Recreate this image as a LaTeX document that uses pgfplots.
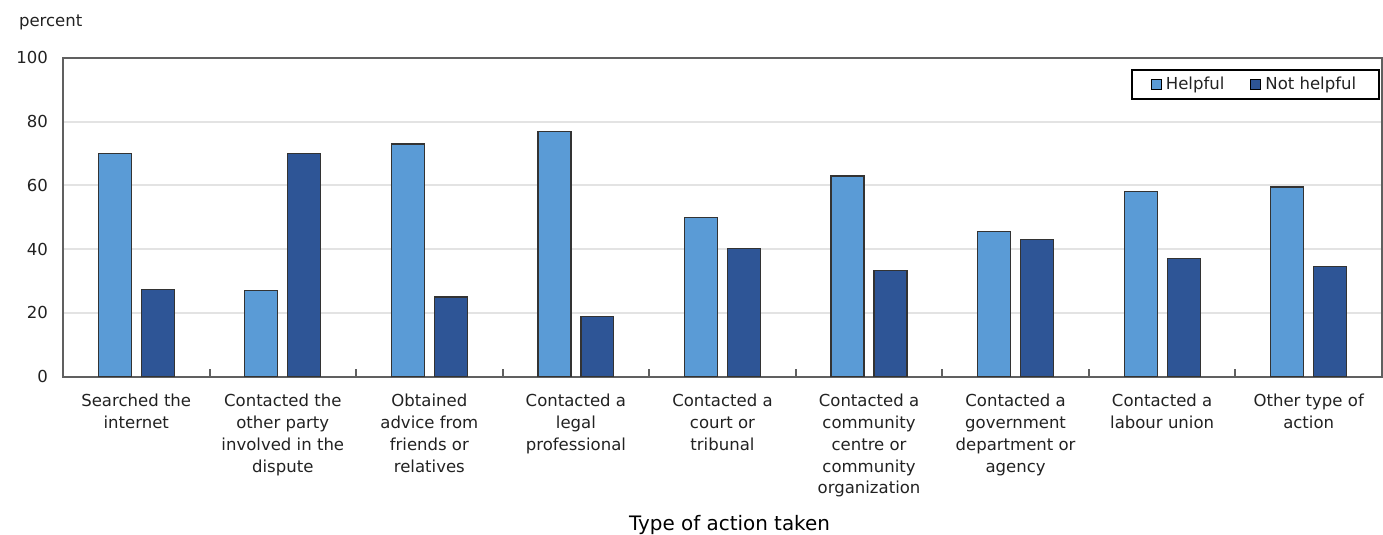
\documentclass[border=0pt]{standalone}
\usepackage{fontspec}
\setmainfont{DejaVu Sans}
\usepackage{pgfplots}
\pgfplotsset{compat=1.18}
\definecolor{helpful}{HTML}{5A9BD6}
\definecolor{nothelpful}{HTML}{2E5596}
\definecolor{gridc}{HTML}{E3E3E3}
\definecolor{axisc}{HTML}{606060}
\definecolor{txt}{HTML}{222222}
\begin{document}
\begin{tikzpicture}
\useasboundingbox (-31.5bp,-79bp) rectangle (660.5bp,188.5bp);
\begin{axis}[
  at={(0,0)}, anchor=south west,
  scale only axis,
  width=660bp, height=159.5bp,
  ybar, bar width=16.5bp,
  xmin=-0.5, xmax=8.5,
  ymin=0, ymax=100,
  ytick={0,20,40,60,80,100},
  ymajorgrids, grid style={gridc, line width=1bp},
  axis line style={axisc, line width=1bp},
  xtick={0,...,8},
  xtick pos=lower, ytick pos=left,
  tick align=inside,
  xtick align=inside,
  major x tick style={draw=none},
  minor xtick={0.5,1.5,...,7.5},
  minor x tick style={axisc, line width=1bp},
  minor tick length=4bp,
  major y tick style={draw=none},
  clip=false,
  xticklabels={
    {Searched the\\internet},
    {Contacted the\\other party\\involved in the\\dispute},
    {Obtained\\advice from\\friends or\\relatives},
    {Contacted a\\legal\\professional},
    {Contacted a\\court or\\tribunal},
    {Contacted a\\community\\centre or\\community\\organization},
    {Contacted a\\government\\department or\\agency},
    {Contacted a\\labour union},
    {Other type of\\action}},
  xticklabel style={align=center, font=\fontsize{8.3}{11}\selectfont, text=txt, yshift=-5bp},
  yticklabel style={font=\fontsize{8.3}{11}\selectfont, text=txt, xshift=-4bp},
  /pgf/number format/assume math mode=true,
  xlabel={Type of action taken},
  xlabel style={font=\fontsize{8.3}{11}\selectfont, text=txt},
  every axis x label/.style={at={(rel axis cs:0.5,0)}, anchor=center, yshift=-74bp, xshift=3.5bp},
  legend columns=2,
  legend style={at={(rel axis cs:1,1)}, anchor=north east, xshift=-1bp, yshift=-5.5bp,
    draw=black, line width=0.8bp, font=\fontsize{8.3}{11}\selectfont, text=txt,
    inner xsep=9.5bp, inner ysep=1.5bp,
    /tikz/every even column/.append style={column sep=11bp}},
  legend image code/.code={\draw[#1, draw=black, line width=0.5bp] (0bp,-2.5bp) rectangle (5bp,2.5bp);},
]
\addplot[fill=helpful, draw=black!80, line width=0.6bp, bar shift=-10.75bp] coordinates {
 (0,70) (1,27) (2,73) (3,77) (4,50) (5,63) (6,45.5) (7,58) (8,59.5)};
\addplot[fill=nothelpful, draw=black!80, line width=0.6bp, bar shift=10.75bp] coordinates {
 (0,27.3) (1,70) (2,25) (3,19) (4,40.3) (5,33.3) (6,43) (7,37) (8,34.5)};
\legend{Helpful, Not helpful}
\node[anchor=west, font=\fontsize{8.3}{11}\selectfont, text=txt] at (rel axis cs:0,1) [xshift=-25.5bp, yshift=18bp] {percent};
\end{axis}
\end{tikzpicture}
\end{document}
